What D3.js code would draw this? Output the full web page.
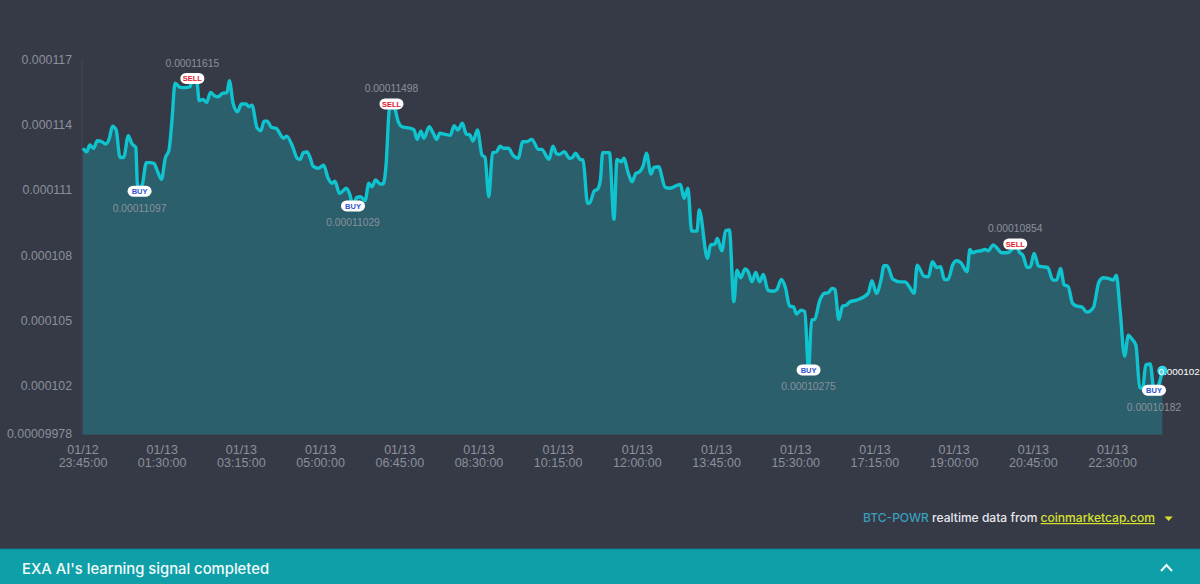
<!DOCTYPE html>
<html>
<head>
<meta charset="utf-8">
<script src="https://cdn.jsdelivr.net/npm/d3@7"></script>
<style>
  html, body { margin: 0; padding: 0; background: #363a47; overflow: hidden; }
  svg { display: block; }
  .axis text { font-family: "Liberation Sans", Arial, sans-serif; fill: #8b909b; }
</style>
</head>
<body>
<div id="chart"></div>
<script>
// minutes since 01/12 23:45
const minutes = [0,5,9,14,19,25,30,35,39,44,49,54,60,65,70,72,75,79,84,89,94,99,104,109,114,118,122,129,135,142,145,151,154,159,164,169,175,179,185,191,194,199,205,210,216,220,224,231,236,240,244,250,256,266,270,278,284,288,292,297,301,305,312,319,325,330,334,340,345,349,354,358,363,368,374,379,383,388,394,398,402,406,409,414,418,423,429,436,439,443,448,452,459,464,469,473,480,487,492,497,503,508,513,517,523,529,533,538,543,548,553,558,564,570,577,583,588,595,604,608,618,623,628,632,638,645,649,653,659,663,669,672,678,682,686,689,698,704,708,714,717,723,728,733,738,743,747,753,757,763,772,778,792,797,802,807,814,817,828,832,838,841,847,852,857,863,867,872,878,882,887,892,897,902,908,915,920,926,931,937,942,946,952,957,962,966,970,977,983,988,993,997,1002,1007,1012,1017,1026,1041,1046,1052,1058,1062,1066,1074,1083,1090,1095,1102,1106,1115,1121,1126,1132,1137,1142,1147,1153,1158,1164,1172,1176,1179,1186,1191,1196,1200,1207,1212,1218,1225,1231,1236,1242,1246,1252,1256,1261,1267,1273,1279,1286,1291,1296,1301,1306,1312,1318,1324,1331,1335,1340,1347,1353,1359,1366,1370,1375,1381,1386,1390,1396,1401,1405,1409,1415,1420,1426,1431]

// price in satoshi (1e-8 BTC)
const prices = [11294,11278,11309,11294,11329,11324,11314,11340,11396,11378,11252,11252,11352,11314,11298,11133,11097,11133,11228,11228,11225,11186,11151,11248,11286,11424,11593,11574,11573,11577,11615,11600,11513,11519,11505,11551,11534,11531,11547,11550,11605,11501,11462,11498,11498,11485,11492,11386,11375,11419,11419,11390,11386,11340,11350,11301,11248,11243,11274,11277,11252,11212,11202,11216,11156,11133,11143,11087,11099,11110,11079,11029,11068,11071,11053,11133,11117,11148,11130,11130,11225,11470,11498,11470,11416,11393,11389,11384,11378,11335,11373,11340,11393,11366,11335,11363,11358,11354,11398,11378,11409,11360,11355,11327,11378,11263,11252,11071,11274,11277,11304,11294,11294,11263,11248,11324,11324,11335,11289,11289,11243,11304,11268,11266,11278,11248,11252,11271,11243,11240,11041,11044,11099,11105,11148,11274,11274,10967,11243,11232,11248,11179,11140,11179,11186,11217,11271,11176,11206,11209,11114,11110,11128,11064,11110,10913,10913,11010,10788,10849,10854,10880,10823,10915,10918,10588,10734,10699,10739,10726,10680,10723,10680,10714,10642,10637,10645,10691,10657,10568,10565,10532,10550,10542,10275,10504,10507,10596,10627,10630,10650,10645,10507,10568,10573,10588,10596,10627,10685,10627,10688,10754,10754,10691,10680,10680,10660,10627,10757,10706,10703,10772,10746,10749,10691,10691,10757,10777,10768,10726,10829,10814,10821,10823,10829,10823,10850,10834,10814,10814,10826,10854,10814,10803,10746,10749,10811,10752,10749,10746,10688,10688,10742,10665,10660,10581,10568,10565,10541,10545,10565,10680,10699,10696,10688,10711,10550,10338,10435,10420,10389,10194,10190,10297,10302,10182,10205,10271]

const signalMinutes = [75,145,358,409,962,1236,1420]
const signalTypes = ["BUY","SELL","BUY","SELL","BUY","SELL","BUY"]

const yTicks = [11700,11400,11100,10800,10500,10200,9978]
const xTicks = [0,105,210,315,420,525,630,735,840,945,1050,1155,1260,1365]
const xDates = ["01/12","01/13","01/13","01/13","01/13","01/13","01/13","01/13","01/13","01/13","01/13","01/13","01/13","01/13"]
const xTimes = ["23:45:00","01:30:00","03:15:00","05:00:00","06:45:00","08:30:00","10:15:00","12:00:00","13:45:00","15:30:00","17:15:00","19:00:00","20:45:00","22:30:00"]

const width = 1200
const height = 584

const svg = d3.select("#chart")
    .append("svg")
    .attr("width", width)
    .attr("height", height)

svg.append("rect")
    .attr("width", width)
    .attr("height", height)
    .attr("fill", "#363a47")

const x = d3.scaleLinear().domain([0, 1431]).range([83, 1162.3])
const y = d3.scaleLinear().domain([9978, 11700]).range([434.5, 60])

const points = minutes.map((m, i) => ({ m: m, p: prices[i] }))
const satText = (v, digits) => (v / 1e8).toFixed(digits)

// area and line
const area = d3.area()
    .x(d => x(d.m))
    .y0(y(9978))
    .y1(d => y(d.p))
    .curve(d3.curveMonotoneX)

const line = d3.line()
    .x(d => x(d.m))
    .y(d => y(d.p))
    .curve(d3.curveMonotoneX)

// axes
const yAxis = svg.append("g")
    .attr("class", "axis")
    .attr("transform", "translate(82,0)")
    .call(d3.axisLeft(y)
        .tickValues(yTicks)
        .tickSize(0)
        .tickPadding(10)
        .offset(0)
        .tickFormat(d => satText(d, d === 9978 ? 8 : 6)))
yAxis.selectAll("text").style("font-size", "12.3px")
yAxis.select(".domain").attr("stroke", "#454955")

const xAxis = svg.append("g")
    .attr("class", "axis")
    .attr("transform", "translate(0," + y(9978) + ")")
    .call(d3.axisBottom(x).tickValues(xTicks).tickSize(0).offset(0).tickFormat(""))
xAxis.select(".domain").attr("stroke", "#454955")

const xLabels = xAxis.selectAll(".tick").select("text")
    .style("font-size", "12.5px")
    .attr("y", 0)
    .attr("dy", null)
xLabels.append("tspan").attr("x", 0).attr("y", 19).text((d, i) => xDates[i])
xLabels.append("tspan").attr("x", 0).attr("y", 32).text((d, i) => xTimes[i])

svg.append("path")
    .datum(points)
    .attr("d", area)
    .attr("fill", "#2a5f6b")

svg.append("path")
    .datum(points)
    .attr("d", line)
    .attr("fill", "none")
    .attr("stroke", "#0fc3cf")
    .attr("stroke-width", 3.4)
    .attr("stroke-linejoin", "round")

// buy / sell signals
const signals = signalMinutes.map((m, i) => ({
    m: m,
    type: signalTypes[i],
    p: prices[minutes.indexOf(m)]
}))

const signal = svg.selectAll(".signal")
    .data(signals)
    .enter()
    .append("g")
    .attr("class", "signal")
    .attr("transform", d => "translate(" + x(d.m) + "," + y(d.p) + ")")

signal.append("rect")
    .attr("x", -12)
    .attr("y", -5.5)
    .attr("width", 24)
    .attr("height", 11)
    .attr("rx", 5.5)
    .attr("fill", "#fff")

signal.append("text")
    .attr("y", 3)
    .attr("text-anchor", "middle")
    .attr("font-family", "'Liberation Sans', Arial, sans-serif")
    .attr("font-weight", "bold")
    .attr("font-size", 7.5)
    .attr("fill", d => d.type === "BUY" ? "#2f52cf" : "#e0202e")
    .text(d => d.type)

signal.append("text")
    .attr("y", d => d.type === "BUY" ? 20.5 : -11.5)
    .attr("text-anchor", "middle")
    .attr("font-family", "'Liberation Sans', Arial, sans-serif")
    .attr("font-size", 10.3)
    .attr("fill", "#8b909b")
    .text(d => satText(d.p, 8))

// latest price
const last = points[points.length - 1]
svg.append("circle")
    .attr("cx", x(last.m))
    .attr("cy", y(last.p))
    .attr("r", 5)
    .attr("fill", "#35d6e4")

svg.append("text")
    .attr("x", x(last.m) - 3.8)
    .attr("y", y(last.p) + 4.5)
    .attr("font-family", "'Liberation Sans', Arial, sans-serif")
    .attr("font-size", 9.9)
    .attr("fill", "#fff")
    .text("0.000102")

// source note
const note = svg.append("text")
    .attr("x", 863)
    .attr("y", 522)
    .attr("font-family", "Inter, 'Noto Sans', sans-serif")
    .attr("font-size", 12.05)
    .attr("font-weight", 500)
note.append("tspan").attr("fill", "#3a9dbd").text("BTC-POWR")
note.append("tspan").attr("fill", "#e6e8ec").text(" realtime data from ")
note.append("tspan").attr("fill", "#d6e22e").attr("text-decoration", "underline").text("coinmarketcap.com")

svg.append("path")
    .attr("d", d3.line()([[1164.5, 516.5], [1172.8, 516.5], [1168.6, 521]]) + "Z")
    .attr("fill", "#d6e22e")

// bottom banner
svg.append("rect")
    .attr("y", 549)
    .attr("width", width)
    .attr("height", 35)
    .attr("fill", "#0f9fa8")

svg.append("rect")
    .attr("y", 548.5)
    .attr("width", width)
    .attr("height", 1)
    .attr("fill", "#0b7f88")

svg.append("text")
    .attr("x", 22)
    .attr("y", 574)
    .attr("font-family", "Inter, 'Noto Sans', sans-serif")
    .attr("font-size", 14.8)
    .attr("font-weight", 500)
    .attr("fill", "#f2fbfb")
    .text("EXA AI's learning signal completed")

svg.append("path")
    .attr("d", d3.line()([[1161, 571], [1166.5, 565], [1172, 571]]))
    .attr("fill", "none")
    .attr("stroke", "#f2fbfb")
    .attr("stroke-width", 2)
</script>
</body>
</html>
